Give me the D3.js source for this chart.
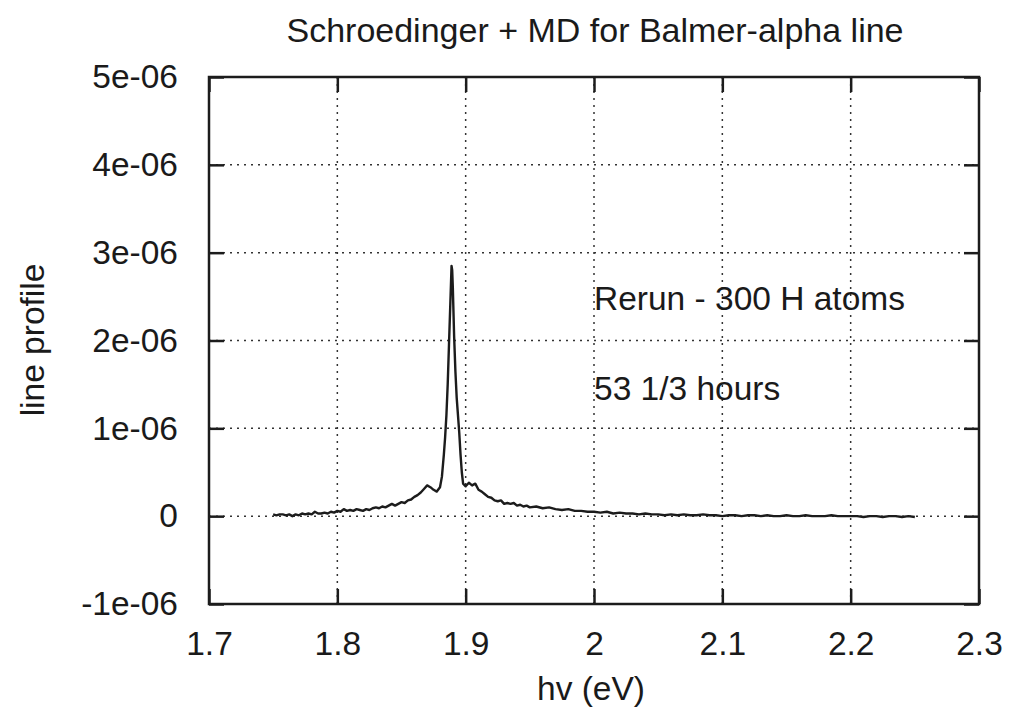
<!DOCTYPE html>
<html>
<head>
<meta charset="utf-8">
<script src="https://cdn.jsdelivr.net/npm/d3@7"></script>
<style>
  html, body { margin: 0; padding: 0; background: #fff; }
  svg text { font-family: "Liberation Sans", Arial, Helvetica, sans-serif; fill: #1a1a1a; }
</style>
</head>
<body>
<svg id="chart" width="1011" height="709"></svg>
<script>
// ---- data (line profile in units of 1e-6) ----
const hv = [
  1.750,1.7525,1.755,1.7575,1.760,1.7625,1.765,1.7675,1.770,1.7725,1.775,1.7775,1.780,1.7825,1.785,1.7875,
  1.790,1.7925,1.795,1.7975,1.800,1.8025,1.805,1.8075,1.810,1.8125,1.815,1.8175,1.820,1.8225,1.825,1.8275,
  1.830,1.8325,1.835,1.8375,1.840,1.8425,1.845,1.8475,1.850,1.8525,1.855,1.8575,1.860,1.8625,1.865,1.8675,
  1.870,1.8725,1.875,1.8775,1.880,1.8815,1.883,1.884,1.885,1.886,1.887,1.888,1.889,1.8895,1.890,1.891,
  1.892,1.893,1.894,1.895,1.896,1.897,1.898,1.900,1.9025,1.905,1.9075,1.910,1.9125,1.915,1.9175,1.920,
  1.9225,1.925,1.9275,1.930,1.9325,1.935,1.9375,1.940,1.9425,1.945,1.9475,1.950,1.955,1.960,1.965,1.970,
  1.975,1.980,1.985,1.990,1.995,2.000,2.005,2.010,2.015,2.020,2.025,2.030,2.035,2.040,2.045,2.050,
  2.055,2.060,2.065,2.070,2.075,2.080,2.085,2.090,2.095,2.100,2.105,2.110,2.115,2.120,2.125,2.130,
  2.135,2.140,2.145,2.150,2.155,2.160,2.165,2.170,2.175,2.180,2.185,2.190,2.195,2.200,2.205,2.210,
  2.215,2.220,2.225,2.230,2.235,2.240,2.245,2.250
];
const profile = [
  0.02,0.01,0.02,0.02,0.01,0.02,0.00,0.02,0.01,0.03,0.02,0.03,0.02,0.05,0.03,0.03,
  0.04,0.03,0.05,0.04,0.06,0.05,0.08,0.06,0.07,0.06,0.08,0.07,0.06,0.08,0.07,0.09,
  0.10,0.09,0.11,0.10,0.12,0.14,0.12,0.14,0.16,0.15,0.18,0.19,0.22,0.24,0.27,0.31,
  0.35,0.33,0.30,0.28,0.33,0.45,0.70,0.90,1.15,1.50,1.95,2.40,2.85,2.80,2.60,2.05,
  1.65,1.35,1.15,0.95,0.70,0.50,0.37,0.34,0.38,0.35,0.37,0.30,0.28,0.25,0.22,0.21,
  0.18,0.17,0.18,0.14,0.15,0.14,0.15,0.12,0.13,0.11,0.12,0.10,0.11,0.09,0.10,0.08,
  0.07,0.08,0.06,0.06,0.05,0.05,0.04,0.05,0.03,0.04,0.03,0.03,0.02,0.03,0.02,0.02,
  0.01,0.02,0.01,0.02,0.01,0.01,0.02,0.01,0.01,0.00,0.01,0.01,0.00,0.01,0.01,0.00,
  0.01,0.00,0.00,0.01,0.00,0.00,0.01,0.00,0.00,0.00,0.01,0.00,0.00,0.00,0.00,-0.01,
  0.00,0.00,-0.01,0.00,0.00,-0.01,0.00,-0.01
];
const xTicks = [1.7, 1.8, 1.9, 2.0, 2.1, 2.2, 2.3];
const xTickLabels = ["1.7", "1.8", "1.9", "2", "2.1", "2.2", "2.3"];
const yTicks = [-1, 0, 1, 2, 3, 4, 5];
const yTickLabels = ["-1e-06", "0", "1e-06", "2e-06", "3e-06", "4e-06", "5e-06"];
const titleText = "Schroedinger + MD for Balmer-alpha line";
const xLabel = "hv (eV)";
const yLabel = "line profile";
const notes = ["Rerun - 300 H atoms", "53 1/3 hours"];

// ---- layout ----
const L = 209, R = 979, T = 77, B = 604;
const svg = d3.select("#chart");
const x = d3.scaleLinear().domain([1.7, 2.3]).range([L, R]);
const y = d3.scaleLinear().domain([-1, 5]).range([B, T]);
const ink = "#1c1c1c";
const fs = 33.5;

// grid
const grid = svg.append("g");
grid.selectAll("line.gx").data(xTicks.slice(1, -1)).join("line")
  .attr("x1", d => x(d)).attr("x2", d => x(d)).attr("y1", T).attr("y2", B)
  .attr("stroke", "#333").attr("stroke-width", 1.5).attr("stroke-dasharray", "2,5");
grid.selectAll("line.gy").data(yTicks.slice(1, -1)).join("line")
  .attr("y1", d => y(d)).attr("y2", d => y(d)).attr("x1", L).attr("x2", R)
  .attr("stroke", "#333").attr("stroke-width", 1.5).attr("stroke-dasharray", "2,5");

// axes with inward ticks (mirrored)
const tl = 15;
const xb = svg.append("g").attr("transform", `translate(0,${B})`)
  .call(d3.axisBottom(x).tickValues(xTicks).tickSize(-tl).tickPadding(tl + 12)
        .tickFormat((d, i) => xTickLabels[i]));
const xt = svg.append("g").attr("transform", `translate(0,${T})`)
  .call(d3.axisTop(x).tickValues(xTicks).tickSize(-tl).tickFormat(""));
const yl = svg.append("g").attr("transform", `translate(${L},0)`)
  .call(d3.axisLeft(y).tickValues(yTicks).tickSize(-tl).tickPadding(tl + 16)
        .tickFormat((d, i) => yTickLabels[i]));
const yr = svg.append("g").attr("transform", `translate(${R},0)`)
  .call(d3.axisRight(y).tickValues(yTicks).tickSize(-tl).tickFormat(""));
[xb, xt, yl, yr].forEach(g => {
  g.select(".domain").remove();
  g.selectAll(".tick line").attr("stroke", ink).attr("stroke-width", 2.5);
  g.selectAll(".tick text").attr("font-size", fs).attr("fill", ink)
    .style("font-family", '"Liberation Sans", Arial, sans-serif');
});
xb.selectAll(".tick text").attr("dy", "0.71em");

// frame
svg.append("rect").attr("x", L).attr("y", T).attr("width", R - L).attr("height", B - T)
  .attr("fill", "none").attr("stroke", ink).attr("stroke-width", 2.5);

// data line
const pts = hv.map((d, i) => [d, profile[i]]);
svg.append("path").datum(pts)
  .attr("d", d3.line().x(d => x(d[0])).y(d => y(d[1])))
  .attr("fill", "none").attr("stroke", ink).attr("stroke-width", 2.4).attr("stroke-linejoin", "round");

// title & labels
svg.append("text").attr("x", 595).attr("y", 42).attr("text-anchor", "middle")
  .attr("font-size", fs + 0.5).text(titleText);
svg.append("text").attr("x", 591).attr("y", 700).attr("text-anchor", "middle")
  .attr("font-size", fs).text(xLabel);
svg.append("text").attr("transform", "translate(44,340) rotate(-90)").attr("text-anchor", "middle")
  .attr("font-size", fs).text(yLabel);
svg.append("text").attr("x", 594).attr("y", 310).attr("font-size", fs).text(notes[0]);
svg.append("text").attr("x", 594).attr("y", 400).attr("font-size", fs).text(notes[1]);
</script>
</body>
</html>
